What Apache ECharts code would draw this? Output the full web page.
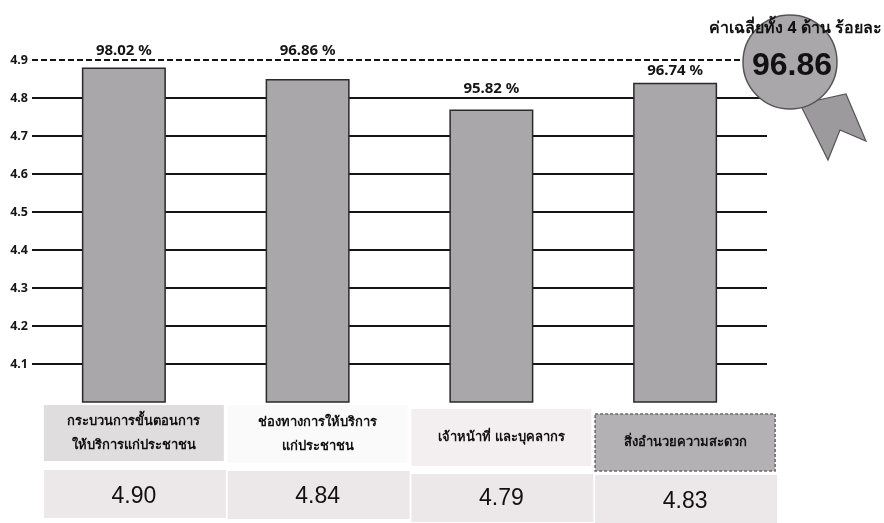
<!DOCTYPE html>
<html>
<head>
<meta charset="utf-8">
<script src="https://cdn.jsdelivr.net/npm/echarts@6/dist/echarts.min.js"></script>
<style>
html,body{margin:0;padding:0;background:#fff;}
#c{width:884px;height:523px;}
</style>
</head>
<body>
<div id="c"></div>
<script>
// ---- data ----
const categories = [
  'กระบวนการขั้นตอนการ\nให้บริการแก่ประชาชน',
  'ช่องทางการให้บริการ\nแก่ประชาชน',
  'เจ้าหน้าที่ และบุคลากร',
  'สิ่งอำนวยความสะดวก'
];
const barHeights = [4.88, 4.85, 4.77, 4.84];   // bar tops as drawn
const percents = [98.02, 96.86, 95.82, 96.74];  // labels above bars
const scores = [4.90, 4.84, 4.79, 4.83];        // table row values
const yTicks = [4.0, 4.9, 0.1];                 // min, max, interval
const averageTitle = 'ค่าเฉลี่ยทั้ง 4 ด้าน ร้อยละ';
const averageValue = 96.86;

// ---- styles ----
const FONT = '"Noto Sans", "DejaVu Sans", Roboto, sans-serif';
const labelDist = [9, 21, 13, 5];
const labelCellStyle = [
  {top: 405, h: 56, fill: '#e0dddf', stroke: null},
  {top: 405, h: 58, fill: '#fbfafa', stroke: null},
  {top: 409, h: 57, fill: '#f3eff1', stroke: null},
  {top: 414, h: 57, fill: '#b3b1b3', stroke: '#6a686a'}
];
const valueCellTop = [470, 471, 474, 475];
const valueTextY = [497, 497, 499, 502];

const chart = echarts.init(document.getElementById('c'), null, {renderer: 'canvas'});

chart.setOption({
  backgroundColor: '#ffffff',
  animation: false,
  grid: {left: 32, right: 117, top: 60, bottom: 121},
  xAxis: {
    type: 'category',
    data: categories,
    axisLine: {show: false},
    axisTick: {show: false},
    axisLabel: {show: false}
  },
  yAxis: {
    type: 'value',
    min: yTicks[0], max: yTicks[1], interval: yTicks[2],
    axisLine: {show: false},
    axisTick: {show: false},
    axisLabel: {
      showMinLabel: false,
      margin: 4,
      color: '#151515',
      fontFamily: FONT,
      fontWeight: 'bold',
      fontSize: 12.5,
      formatter: v => v.toFixed(1)
    },
    splitLine: {
      show: true,
      showMinLine: false,
      showMaxLine: false,
      lineStyle: {color: '#151515', width: 2}
    }
  },
  series: [{
    type: 'bar',
    barWidth: 84,
    data: barHeights.map((v, i) => ({
      value: v,
      label: {distance: labelDist[i]}
    })),
    itemStyle: {color: '#a9a7a9', borderColor: '#2a2a2a', borderWidth: 1.5},
    label: {
      show: true,
      position: 'top',
      color: '#151515',
      fontFamily: FONT,
      fontWeight: 'bold',
      fontSize: 15,
      formatter: p => percents[p.dataIndex].toFixed(2) + ' %'
    },
    markLine: {
      silent: true,
      symbol: 'none',
      label: {show: false},
      lineStyle: {color: '#151515', width: 2, type: [6, 3]},
      data: [{yAxis: yTicks[1]}]
    },
    z: 3
  }]
});

// ---- table + badge (positioned from the category scale) ----
const graphics = [];
categories.forEach((c, i) => {
  const cx = chart.convertToPixel({xAxisIndex: 0}, i) + 10;
  const s = labelCellStyle[i];
  graphics.push({
    type: 'rect', z: 10,
    shape: {x: cx - 90, y: s.top, width: 180, height: s.h},
    style: {fill: s.fill, stroke: s.stroke, lineWidth: s.stroke ? 1.5 : 0, lineDash: s.stroke ? [3, 2] : null}
  });
  graphics.push({
    type: 'text', z: 11,
    x: cx, y: s.top + s.h / 2,
    style: {
      text: c, align: 'center', verticalAlign: 'middle',
      fill: '#111', fontFamily: FONT, fontWeight: 'bold', fontSize: 13, lineHeight: 24
    }
  });
  graphics.push({
    type: 'rect', z: 10,
    shape: {x: cx - 90, y: valueCellTop[i], width: 182, height: 48},
    style: {fill: '#ece7e9'}
  });
  graphics.push({
    type: 'text', z: 11,
    x: cx, y: valueTextY[i],
    style: {
      text: scores[i].toFixed(2), align: 'center', verticalAlign: 'middle',
      fill: '#111', fontFamily: 'Liberation Sans, Arial, sans-serif', fontSize: 23
    }
  });
});

// badge ribbon
graphics.push({
  type: 'polygon', z: 20,
  shape: {points: [[800, 104], [846, 94], [866, 141], [840, 130], [828, 160]]},
  style: {fill: '#9c9a9c', stroke: '#555', lineWidth: 1.2}
});
graphics.push({
  type: 'circle', z: 21,
  shape: {cx: 790, cy: 62, r: 47},
  style: {fill: '#a9a7a9', stroke: '#555', lineWidth: 1.5}
});
graphics.push({
  type: 'text', z: 22,
  x: 792, y: 66,
  style: {
    text: averageValue.toFixed(2), align: 'center', verticalAlign: 'middle',
    fill: '#111', fontFamily: 'Liberation Sans, Arial, sans-serif', fontWeight: 'bold', fontSize: 32
  }
});
graphics.push({
  type: 'text', z: 23,
  x: 882, y: 28,
  style: {
    text: averageTitle, align: 'right', verticalAlign: 'middle',
    fill: '#111', fontFamily: FONT, fontWeight: 'bold', fontSize: 16
  }
});

chart.setOption({graphic: graphics});
</script>
</body>
</html>
